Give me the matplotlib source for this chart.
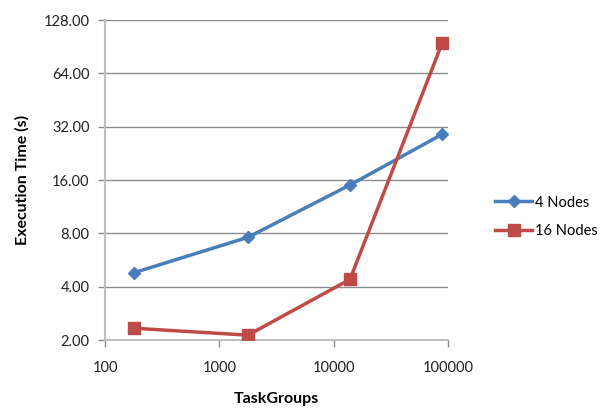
import matplotlib.pyplot as plt
from matplotlib.ticker import FixedLocator, FixedFormatter, NullLocator

plt.rcParams['font.family'] = ['Lato', 'DejaVu Sans']

# data
task_groups = [180, 1780, 13900, 89000]
nodes_4 = [4.8, 7.6, 15.0, 29.0]
nodes_16 = [2.33, 2.13, 4.4, 95.0]
y_ticks = [2, 4, 8, 16, 32, 64, 128]
x_ticks = [100, 1000, 10000, 100000]

fig = plt.figure(figsize=(6.05, 4.09), dpi=100)
ax = fig.add_axes([105 / 605, 1 - 340 / 409, 343 / 605, 320 / 409])

ax.plot(task_groups, nodes_4, color='#4a7ebb', lw=2.5, marker='D', ms=6,
        label='4 Nodes', zorder=3)
ax.plot(task_groups, nodes_16, color='#be4b48', lw=2.5, marker='s', ms=8,
        label='16 Nodes', zorder=3)

ax.set_xscale('log')
ax.set_yscale('log', base=2)
ax.set_xlim(100, 100000)
ax.set_ylim(2, 128)

ax.yaxis.set_major_locator(FixedLocator(y_ticks))
ax.yaxis.set_major_formatter(FixedFormatter([f'{v:.2f}' for v in y_ticks]))
ax.yaxis.set_minor_locator(NullLocator())
ax.xaxis.set_major_locator(FixedLocator(x_ticks))
ax.xaxis.set_major_formatter(FixedFormatter([str(v) for v in x_ticks]))
ax.xaxis.set_minor_locator(NullLocator())

ax.grid(axis='y', color='#8c8c8c', lw=1)
ax.set_axisbelow(True)
for s in ['top', 'right']:
    ax.spines[s].set_visible(False)
ax.spines['left'].set_color('#bfbfbf')
ax.spines['bottom'].set_color('#bfbfbf')
ax.spines['left'].set_linewidth(1.5)
ax.spines['bottom'].set_linewidth(1.5)
ax.tick_params(axis='both', color='#8c8c8c', length=5, width=1,
               labelsize=10.5, labelcolor='#222222')
ax.tick_params(axis='x', pad=10)
ax.tick_params(axis='y', pad=6)

ax.set_xlabel('TaskGroups', fontsize=11.5, fontweight='bold', labelpad=12)
ax.set_ylabel('Execution Time (s)', fontsize=11.5, fontweight='bold', labelpad=10)

ax.legend(loc='center left', bbox_to_anchor=(1.1, 0.385), frameon=False,
          fontsize=10.5, handlelength=2.5, handletextpad=0.2, labelspacing=1.0)

fig.savefig('out.png', dpi=100)
